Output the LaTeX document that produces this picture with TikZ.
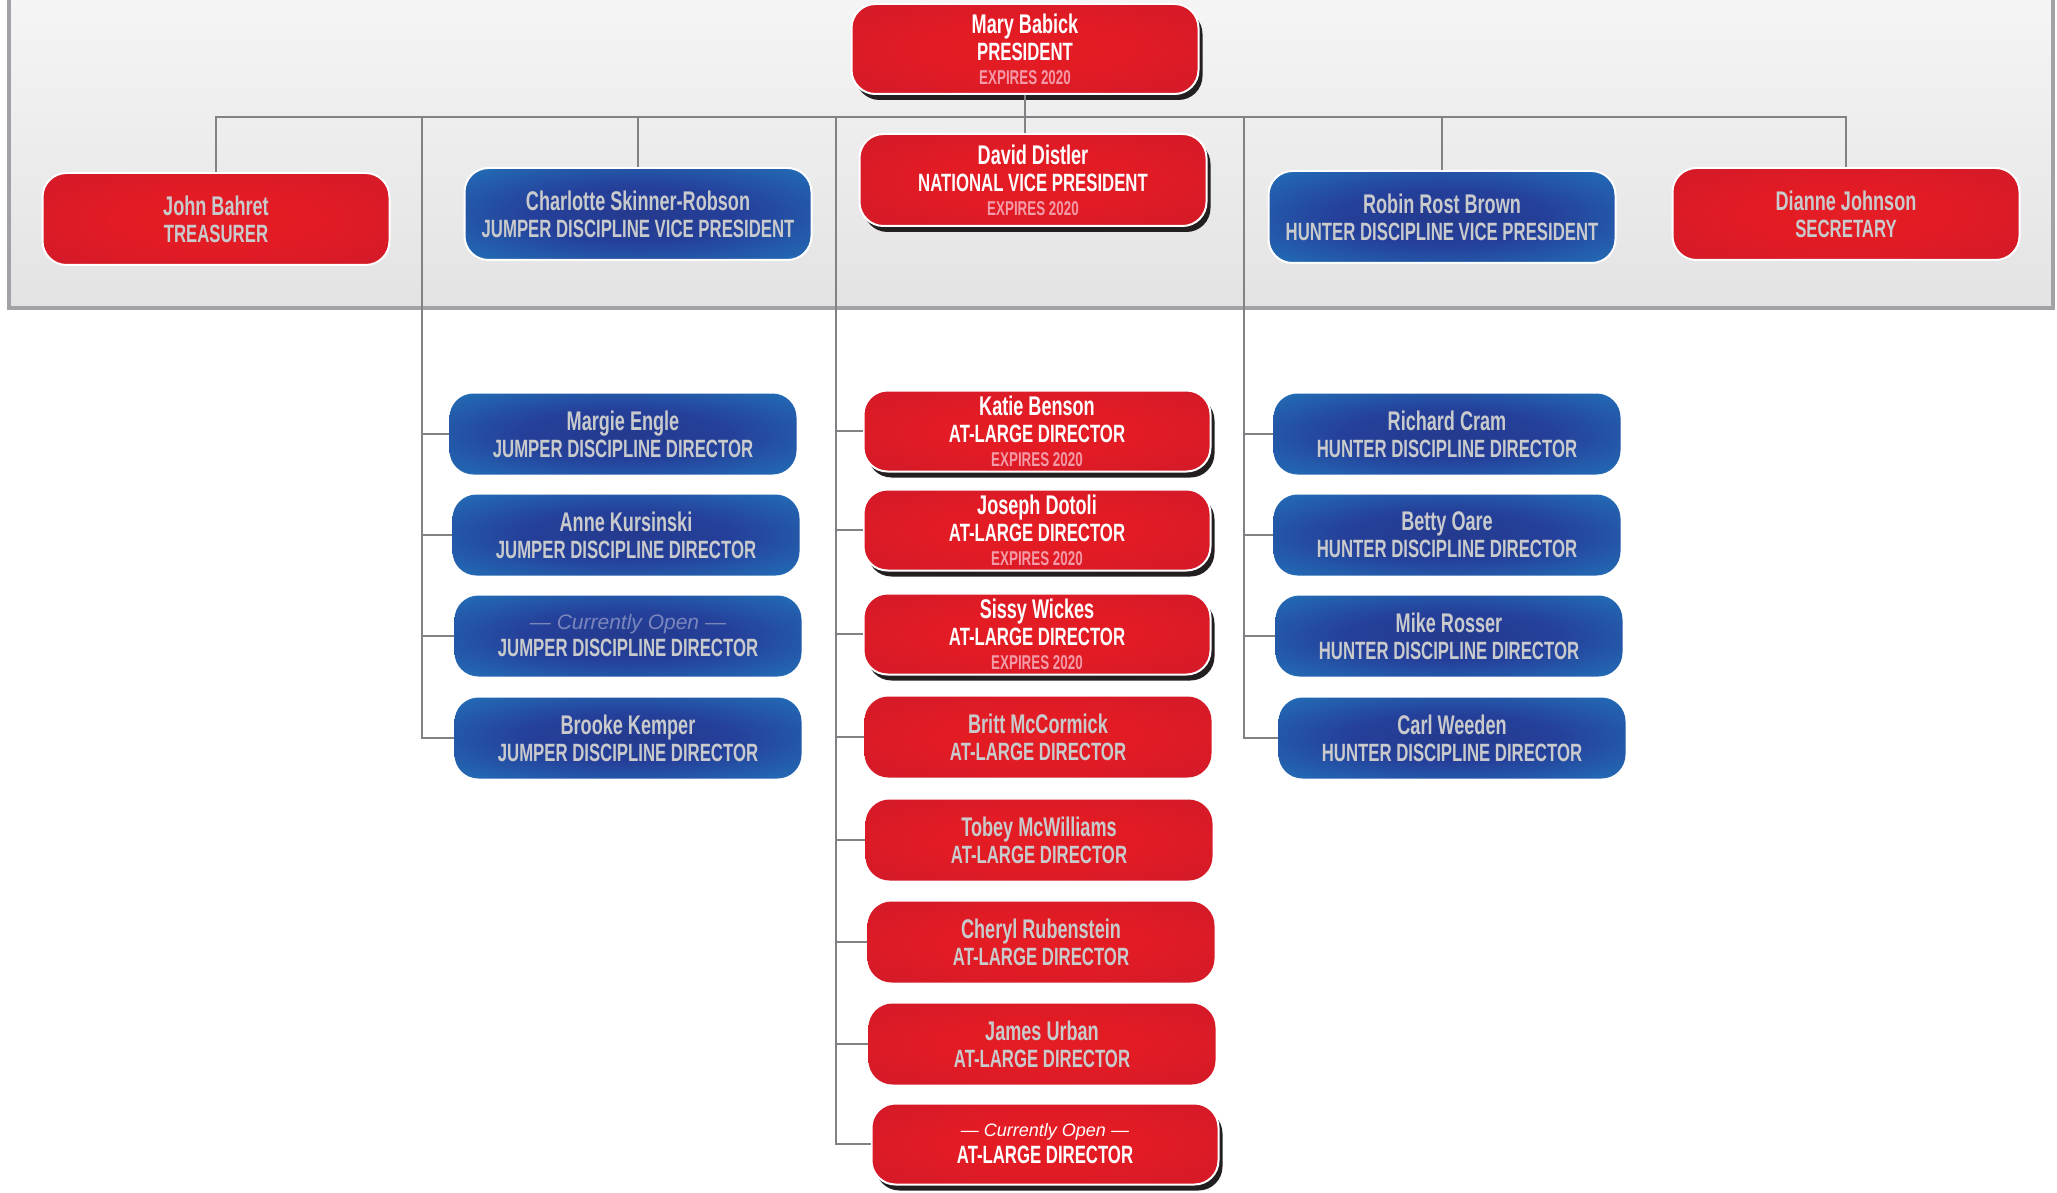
\documentclass[tikz,border=0pt]{standalone}
\usepackage{fontspec}
\setmainfont{Liberation Sans}[FakeStretch=0.67]
\newfontfamily\openfont{Liberation Sans}
\usetikzlibrary{shadows}
\definecolor{txtgrey}{HTML}{C9CACC}
\definecolor{expink}{HTML}{F39AA8}
\definecolor{openblue}{HTML}{7B86BD}
\definecolor{lineg}{HTML}{808285}
\definecolor{panelb}{HTML}{A0A2A5}
\definecolor{redc}{HTML}{E51D25}
\definecolor{redb}{HTML}{E21B24}
\definecolor{redm}{HTML}{D31A29}
\definecolor{redd}{HTML}{BE192E}
\definecolor{bluec}{HTML}{243A8E}
\definecolor{blueb}{HTML}{25409A}
\definecolor{bluem}{HTML}{2366B2}
\definecolor{bluee}{HTML}{2A90D0}
\definecolor{bluef}{HTML}{2E9CD8}
\definecolor{shadowc}{HTML}{231F20}
\pgfdeclareradialshading{redsh}{\pgfpoint{0bp}{0bp}}{color(0bp)=(redc); color(15bp)=(redb); color(35bp)=(redm); color(50bp)=(redd)}
\pgfdeclareradialshading{bluesh}{\pgfpoint{0bp}{0bp}}{color(0bp)=(bluec); color(15bp)=(blueb); color(32bp)=(bluem); color(42bp)=(bluee); color(50bp)=(bluef)}
\newcommand\expl{\\[-3pt]{\fontsize{20}{22}\selectfont\color{expink}EXPIRES 2020}}
\newcommand\nm[1]{{\fontsize{27}{27}\selectfont #1}}
\tikzset{
  box/.style={rounded corners=24pt, minimum width=347pt, minimum height=81pt,
    align=center, inner sep=0pt, font=\fontsize{25}{27}\selectfont\bfseries, text=txtgrey},
  tall/.style={minimum height=92pt},
  redbox/.style={box, shade, shading=redsh},
  bluebox/.style={box, shade, shading=bluesh},
  rim/.style={draw=white, line width=2pt},
  shad/.style={rim, text=white, general shadow={shadow xshift=4pt, shadow yshift=-6pt, fill=shadowc}},
  conn/.style={draw=lineg, line width=2.5pt}
}
\begin{document}
\begin{tikzpicture}[x=1pt,y=-1pt]
\useasboundingbox (0,0) rectangle (2057,1193);
\fill[white] (0,0) rectangle (2057,1193);
% panel
\shade[top color=black!4, bottom color=black!11] (9,0) rectangle (2053,308);
\draw[panelb, line width=4.5pt] (9,-5) -- (9,308) -- (2053,308) -- (2053,-5);

% top nodes
\node[redbox, shad, minimum height=90pt] (pres) at (1025,49) {\nm{Mary Babick}\\PRESIDENT\expl};
\node[redbox, shad, tall] (david) at (1033,180) {\nm{David Distler}\\NATIONAL VICE PRESIDENT\expl};
\node[redbox, rim, tall] (john) at (216,219) {\nm{John Bahret}\\TREASURER};
\node[bluebox, rim, tall] (charlotte) at (638,214) {\nm{Charlotte Skinner-Robson}\\JUMPER DISCIPLINE VICE PRESIDENT};
\node[bluebox, rim, tall] (robin) at (1442,217) {\nm{Robin Rost Brown}\\HUNTER DISCIPLINE VICE PRESIDENT};
\node[redbox, rim, tall] (dianne) at (1846,214) {\nm{Dianne Johnson}\\SECRETARY};

% jumper column
\node[bluebox] (margie) at (623,434) {\nm{Margie Engle}\\JUMPER DISCIPLINE DIRECTOR};
\node[bluebox] (anne) at (626,535) {\nm{Anne Kursinski}\\JUMPER DISCIPLINE DIRECTOR};
\node[bluebox] (jopen) at (628,636) {{\openfont\mdseries\itshape\fontsize{21}{24}\selectfont\color{openblue}— Currently Open —}\\JUMPER DISCIPLINE DIRECTOR};
\node[bluebox] (brooke) at (628,738) {\nm{Brooke Kemper}\\JUMPER DISCIPLINE DIRECTOR};

% at-large column
\node[redbox, shad] (katie) at (1037,431) {\nm{Katie Benson}\\AT-LARGE DIRECTOR\expl};
\node[redbox, shad] (joseph) at (1037,530) {\nm{Joseph Dotoli}\\AT-LARGE DIRECTOR\expl};
\node[redbox, shad] (sissy) at (1037,634) {\nm{Sissy Wickes}\\AT-LARGE DIRECTOR\expl};
\node[redbox] (britt) at (1038,737) {\nm{Britt McCormick}\\AT-LARGE DIRECTOR};
\node[redbox] (tobey) at (1039,840) {\nm{Tobey McWilliams}\\AT-LARGE DIRECTOR};
\node[redbox] (cheryl) at (1041,942) {\nm{Cheryl Rubenstein}\\AT-LARGE DIRECTOR};
\node[redbox] (james) at (1042,1044) {\nm{James Urban}\\AT-LARGE DIRECTOR};
\node[redbox, shad] (aopen) at (1045,1144) {{\openfont\mdseries\itshape\fontsize{18}{22}\selectfont — Currently Open —}\\AT-LARGE DIRECTOR};

% hunter column
\node[bluebox] (richard) at (1447,434) {\nm{Richard Cram}\\HUNTER DISCIPLINE DIRECTOR};
\node[bluebox] (betty) at (1447,535) {\nm{Betty Oare}\\HUNTER DISCIPLINE DIRECTOR};
\node[bluebox] (mike) at (1449,636) {\nm{Mike Rosser}\\HUNTER DISCIPLINE DIRECTOR};
\node[bluebox] (carl) at (1452,738) {\nm{Carl Weeden}\\HUNTER DISCIPLINE DIRECTOR};

% connectors
\coordinate (bus) at (1025,117);
\coordinate (jtop) at (422,117);
\coordinate (atop) at (836,117);
\coordinate (htop) at (1244,117);
\draw[conn] (john.north) |- (bus) -| (dianne.north);
\draw[conn] (charlotte.north) |- (bus);
\draw[conn] (robin.north) |- (bus);
\draw[conn] (pres.south) -- (pres.south |- david.north);
\foreach \c in {margie,anne,jopen,brooke} \draw[conn] (jtop) |- (\c.west);
\foreach \c in {katie,joseph,sissy,britt,tobey,cheryl,james,aopen} \draw[conn] (atop) |- (\c.west);
\foreach \c in {richard,betty,mike,carl} \draw[conn] (htop) |- (\c.west);
\end{tikzpicture}
\end{document}
